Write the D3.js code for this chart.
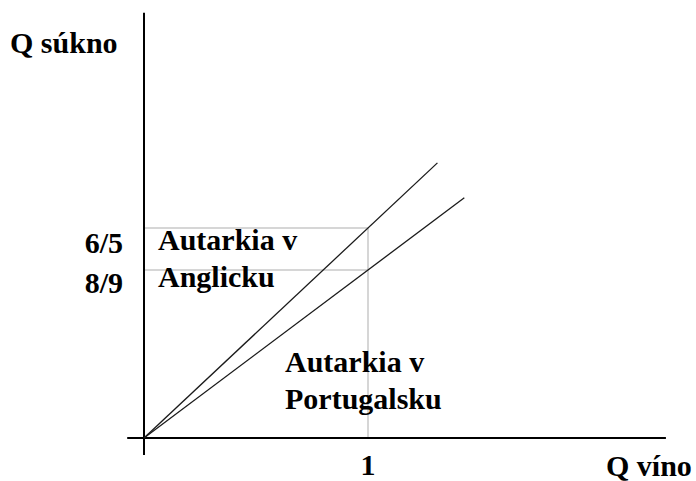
<!DOCTYPE html>
<html>
<head>
<meta charset="utf-8">
<script src="https://cdn.jsdelivr.net/npm/d3@7"></script>
<style>
  body { margin: 0; background: #fff; }
  text { font-family: "Liberation Serif", "Times New Roman", serif; font-weight: bold; fill: #000; }
</style>
</head>
<body>
<div id="chart"></div>
<script>
const width = 696, height = 481;

// rays of autarky: cloth per unit of wine
const countries = ["Anglicko", "Portugalsko"];
const slopes = [1.2, 0.96];
const rayEnds = [1.31, 1.43];            // x where each ray stops
const yTicks = [1.2, 0.96];
const yTickLabels = ["6/5", "8/9"];
const xTicks = [1];
const xTickLabels = ["1"];
const xAxisExtent = [-0.075, 2.33];
const yAxisExtent = [-0.097, 2.43];

const x = d3.scaleLinear().domain([0, 1]).range([144, 368]);
const y = d3.scaleLinear().domain([0, 1]).range([438, 263]);

const svg = d3.select("#chart").append("svg")
    .attr("width", width)
    .attr("height", height);

// helper lines at x = 1
svg.append("g")
    .attr("stroke", "#c8c8c8")
    .attr("stroke-width", 1.5)
    .selectAll("line")
    .data(yTicks)
    .join("line")
    .attr("x1", x(0)).attr("x2", x(1))
    .attr("y1", d => y(d)).attr("y2", d => y(d));

svg.append("line")
    .attr("stroke", "#c8c8c8")
    .attr("stroke-width", 1.5)
    .attr("x1", x(1)).attr("x2", x(1))
    .attr("y1", y(d3.max(yTicks))).attr("y2", y(0));

// axes
svg.append("line")
    .attr("stroke", "#000").attr("stroke-width", 2)
    .attr("x1", x(xAxisExtent[0])).attr("x2", x(xAxisExtent[1]))
    .attr("y1", y(0)).attr("y2", y(0));
svg.append("line")
    .attr("stroke", "#000").attr("stroke-width", 2)
    .attr("x1", x(0)).attr("x2", x(0))
    .attr("y1", y(yAxisExtent[0])).attr("y2", y(yAxisExtent[1]));

// rays
const line = d3.line().x(d => x(d[0])).y(d => y(d[1]));
svg.append("g")
    .attr("fill", "none")
    .attr("stroke", "#1a1a1a")
    .attr("stroke-width", 1.3)
    .selectAll("path")
    .data(countries.map((c, i) => [[0, 0], [rayEnds[i], slopes[i] * rayEnds[i]]]))
    .join("path")
    .attr("d", line);

// tick labels
svg.append("g")
    .selectAll("text")
    .data(yTicks)
    .join("text")
    .attr("x", 123)
    .attr("y", (d, i) => y(d) + 25 - i * 2)
    .attr("text-anchor", "end")
    .attr("font-size", 30)
    .text((d, i) => yTickLabels[i]);

svg.append("g")
    .selectAll("text")
    .data(xTicks)
    .join("text")
    .attr("x", d => x(d))
    .attr("y", 475)
    .attr("text-anchor", "middle")
    .attr("font-size", 30)
    .text((d, i) => xTickLabels[i]);

// axis titles
svg.append("text").attr("x", 10).attr("y", 53).attr("font-size", 30).text("Q súkno");
svg.append("text").attr("x", 606).attr("y", 476).attr("font-size", 30).text("Q víno");

// region labels
const labels = [
  { lines: ["Autarkia v", "Anglicku"], x: 158, y: 250 },
  { lines: ["Autarkia v", "Portugalsku"], x: 285, y: 372 }
];
labels.forEach(l => {
  svg.append("text")
      .attr("x", l.x).attr("y", l.y)
      .attr("font-size", 30)
      .selectAll("tspan")
      .data(l.lines)
      .join("tspan")
      .attr("x", l.x)
      .attr("dy", (d, i) => i === 0 ? 0 : 37)
      .text(d => d);
});
</script>
</body>
</html>
